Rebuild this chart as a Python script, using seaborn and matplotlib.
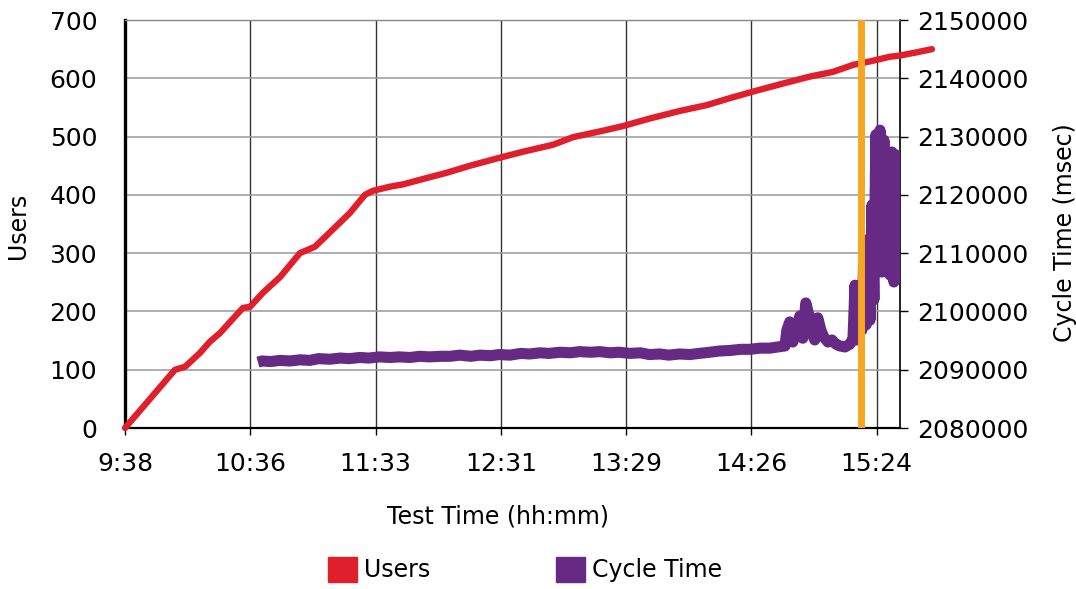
"""
Load test chart: users ramp vs. cycle time
"""
import matplotlib
matplotlib.use('Agg')
import matplotlib.pyplot as plt
import seaborn as sns
from matplotlib.patches import Patch

sns.set_style('white')
plt.rcParams['font.family'] = ['DejaVu Sans']
plt.rcParams['text.color'] = 'black'
plt.rcParams['axes.labelcolor'] = 'black'
plt.rcParams['xtick.color'] = 'black'
plt.rcParams['ytick.color'] = 'black'

# ============ data (time in minutes since midnight) ============
user_time = [578, 589.5, 601, 605.6, 612.5, 617, 621.7, 626.3, 632.2, 635.5,
             641.4, 649.3, 658.4, 665.3, 670.9, 681.4, 688.3, 692, 699.8, 705.8,
             716.8, 726, 736.6, 749.5, 761, 774.8, 784, 797.7, 806.9, 819.3,
             833.1, 845.5, 856.1, 868.5, 880.5, 892.9, 903.5, 912.7, 920.5, 929.7,
             934.3, 941.2, 949]
users = [0, 50, 100, 105, 129, 148, 163, 182, 206, 208,
         232, 259, 300, 311, 331, 369, 400, 407, 414, 418,
         429, 438, 450, 463, 474, 486, 499, 510, 518, 531,
         544, 554, 566, 579, 591, 603, 611, 623, 629, 637,
         639, 644, 650]

cycle_time = [639.1, 641, 645, 649.3, 654, 658.4, 663, 667, 672.2, 677,
              681, 686, 690, 695, 699.8, 704, 709, 713.6, 718, 723,
              727.4, 732, 737, 741.2, 746, 750, 755, 760, 764, 768.8,
              773, 778, 782.6, 787, 792, 796.4, 801, 805, 810.1, 815,
              819, 823.9, 828, 833, 837.7, 842, 846.9, 851, 856.1, 861,
              865.3, 870, 874.5, 878, 881.4,
              882.3, 883.6, 885.0, 886.9, 888.2, 889.6, 891.0, 892.4, 893.7, 895.1,
              896.5, 897.9, 899.3, 901.2, 903.0, 904.8, 906.7, 909.0, 911.3, 912.7,
              913.6, 914.5, 915.5, 916.8, 917.8, 918.7, 919.6, 920.5, 921.4, 922.3,
              923.2, 924.2, 925.1, 926.0, 926.9, 927.8, 928.7, 929.7, 930.6, 931.5,
              932.4, 933.3, 934.3, 935.2]
cycle_ms = [2091300, 2091500, 2091400, 2091600, 2091500, 2091700, 2091600, 2091900, 2091800, 2092000,
            2091900, 2092100, 2092000, 2092200, 2092100, 2092200, 2092100, 2092300, 2092200, 2092300,
            2092300, 2092500, 2092300, 2092500, 2092400, 2092600, 2092500, 2092800, 2092700, 2092900,
            2092800, 2093000, 2092900, 2093100, 2093000, 2093100, 2092900, 2093000, 2092800, 2092900,
            2092600, 2092700, 2092500, 2092700, 2092600, 2092800, 2093000, 2093200, 2093300, 2093500,
            2093500, 2093700, 2093700, 2093900, 2094070,
            2096800, 2098200, 2094750, 2096500, 2099200, 2095400, 2101450, 2099400, 2096500, 2095100,
            2098900, 2096800, 2095600, 2094750, 2095100, 2094400, 2094070, 2093900, 2094400, 2095400,
            2104500, 2095100, 2102000, 2096800, 2112250, 2097700, 2111400, 2098500, 2118250, 2102000,
            2130300, 2108000, 2131100, 2106750, 2129400, 2108500, 2126300, 2106250, 2127350, 2105050,
            2126850, 2105750, 2123400, 2112250]

event_time = 916.3   # orange marker
tick_labels = ['9:38', '10:36', '11:33', '12:31', '13:29', '14:26', '15:24']
start_min = 578
tick_step = 57.6     # 0.04 day major unit
end_min = 934.3

RED = '#E01F2D'
PURPLE = '#672A84'
ORANGE = '#F6A623'

# ============ figure ============
fig = plt.figure(figsize=(10.76, 5.89), dpi=100)
ax = fig.add_axes([125 / 1076, 1 - 428 / 589, 775 / 1076, 408 / 589])
ax2 = ax.twinx()

sns.lineplot(x=user_time, y=users, ax=ax, color=RED, linewidth=4.6,
             clip_on=False, zorder=3, estimator=None)
sns.lineplot(x=cycle_time, y=cycle_ms, ax=ax2, color=PURPLE, linewidth=8,
             estimator=None, solid_capstyle='butt', solid_joinstyle='round')
ax2.axvline(event_time, color=ORANGE, linewidth=5, zorder=5)

# axes ranges / ticks
ax.set_xlim(start_min, end_min)
ax.set_xticks([start_min + i * tick_step for i in range(len(tick_labels))])
ax.set_xticklabels(tick_labels)
ax.set_ylim(0, 700)
ax.set_yticks(range(0, 701, 100))
ax2.set_ylim(2080000, 2150000)
ax2.set_yticks(range(2080000, 2150001, 10000))
ax2.ticklabel_format(axis='y', style='plain', useOffset=False)

# grid
ax.grid(axis='x', color='#333333', linewidth=1.0)
ax.grid(axis='y', color='#999999', linewidth=1.1)
ax2.grid(False)

# spines
for s in ax2.spines.values():
    s.set_visible(False)
ax.spines['left'].set_linewidth(2.4)
ax.spines['left'].set_color('black')
ax.spines['bottom'].set_linewidth(1.6)
ax.spines['bottom'].set_color('black')
ax.spines['right'].set_linewidth(1.2)
ax.spines['right'].set_color('black')
ax.spines['top'].set_linewidth(1.0)
ax.spines['top'].set_color('#888888')

ax.tick_params(axis='x', bottom=True, direction='out', length=5, width=1,
               color='black', pad=12, labelsize=18)
ax.tick_params(axis='y', left=False, length=0, pad=20, labelsize=18)
ax2.tick_params(axis='y', right=True, direction='out', length=6, width=1,
                color='black', pad=6, labelsize=18)

# labels
ax.set_xlabel('Test Time (hh:mm)', fontsize=17, va='center')
ax.xaxis.set_label_coords(0.481, -0.216)
ax.set_ylabel('Users', fontsize=17, va='center')
ax.yaxis.set_label_coords(-0.138, 0.495)
ax2.set_ylabel('Cycle Time (msec)', fontsize=17, va='center', rotation=90)
ax2.yaxis.set_label_coords(1.213, 0.48)

# legend
handles = [Patch(color=RED, label='Users'), Patch(color=PURPLE, label='Cycle Time')]
fig.legend(handles=handles, loc='center', bbox_to_anchor=(0.488, 0.033), ncol=2,
           frameon=False, fontsize=17, handlelength=1.25, handleheight=1.25,
           handletextpad=0.3, columnspacing=5.3)

plt.savefig('out.png', dpi=100)
